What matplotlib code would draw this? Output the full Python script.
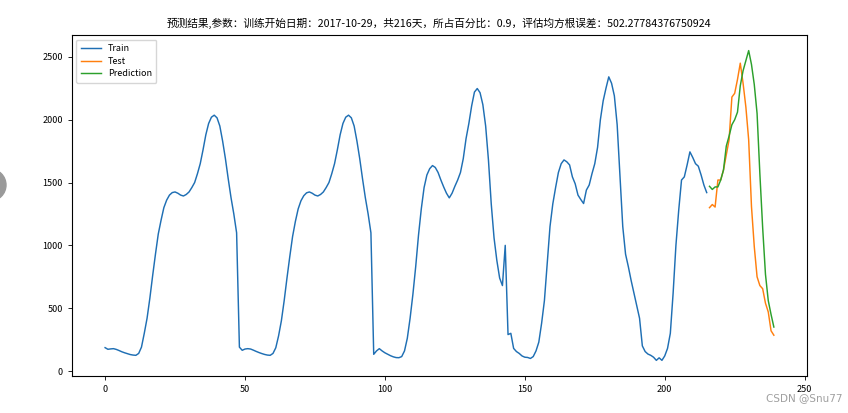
import matplotlib
matplotlib.use('Agg')
import matplotlib.pyplot as plt
from matplotlib.patches import Ellipse
import numpy as np

plt.rcParams['font.family'] = ['Noto Sans CJK SC', 'DejaVu Sans']
plt.rcParams['axes.unicode_minus'] = False

title = '预测结果,参数：训练开始日期：2017-10-29，共216天，所占百分比：0.9，评估均方根误差：502.27784376750924'

train = [
    186, 173, 176, 178, 172, 163, 153, 145, 138, 131, 127, 125, 140, 190, 300, 420,
    580, 760, 930, 1090, 1200, 1300, 1360, 1400, 1420, 1425, 1415, 1400, 1393, 1405, 1425, 1460,
    1500, 1570, 1650, 1760, 1880, 1970, 2020, 2036, 2015, 1950, 1830, 1690, 1530, 1380, 1250, 1100,
    190, 165, 175, 178, 175, 166, 156, 147, 139, 132, 127, 125, 140, 185, 280, 400,
    560, 740, 910, 1070, 1190, 1290, 1355, 1395, 1418, 1425, 1415, 1400, 1393, 1405, 1425, 1460,
    1500, 1570, 1650, 1760, 1880, 1970, 2020, 2036, 2015, 1950, 1830, 1690, 1530, 1380, 1250, 1100,
    133, 160, 178, 160, 145, 133, 122, 113, 107, 106, 115, 160, 260, 420, 610, 830,
    1080, 1290, 1460, 1560, 1610, 1635, 1620, 1580, 1520, 1465, 1415, 1378, 1415, 1470, 1520, 1580,
    1690, 1850, 1970, 2110, 2220, 2248, 2215, 2120, 1950, 1680, 1330, 1060, 880, 740, 680, 1000,
    290, 300, 180, 155, 140, 120, 110, 108, 100, 115, 160, 230, 380, 560, 850, 1150,
    1330, 1460, 1580, 1650, 1680, 1665, 1640, 1545, 1490, 1400, 1365, 1333, 1440, 1480, 1570, 1650,
    1780, 2000, 2150, 2250, 2341, 2290, 2190, 1960, 1550, 1150, 930, 830, 720, 620, 520, 420,
    200, 155, 135, 125, 110, 85, 105, 85, 120, 180, 300, 620, 1000, 1280, 1520, 1545,
    1640, 1744, 1700, 1650, 1630, 1560, 1480, 1420,
]

test = [
    1300, 1325, 1305, 1520, 1520, 1600, 1720, 1840, 2180, 2210, 2320, 2450,
    2290, 2100, 1840, 1310, 990, 750, 680, 655, 540, 470, 320, 285,
]

prediction = [
    1470, 1445, 1465, 1465, 1520, 1600, 1790, 1870, 1960, 2000, 2060, 2270,
    2390, 2470, 2550, 2440, 2280, 2050, 1570, 1140, 770, 560, 450, 350,
]

x_train = np.arange(len(train))
x_test = np.arange(len(train), len(train) + len(test))

fig = plt.figure(figsize=(8.48, 4.13), dpi=100)
ax = fig.add_axes([0.0845, 0.09, 0.8675, 0.825])

ax.plot(x_train, train, color='#1f6fb4', lw=1.05, label='Train')
ax.plot(x_test, test, color='#ff7f0e', lw=1.05, label='Test')
ax.plot(x_test, prediction, color='#2ca02c', lw=1.05, label='Prediction')

ax.set_title(title, fontsize=7.7, pad=6)
ax.tick_params(labelsize=6.5, length=3, width=0.6)
for s in ax.spines.values():
    s.set_linewidth(0.8)
ax.legend(loc='upper left', handlelength=2.2, borderpad=0.5, labelspacing=0.4,
          prop={'family': ['Noto Sans CJK SC'], 'size': 6.5})

# screenshot leftovers
fig.patches.append(Ellipse((-10 / 848, 1 - 185 / 413), 32 / 848, 32 / 413,
                           transform=fig.transFigure, color='#9a9a9a', zorder=0))
fig.text(0.993, 0.025, 'CSDN @Snu77', ha='right', va='bottom', fontsize=7.5,
         color='#a0a0a0', family=['DejaVu Sans'])

fig.savefig('out.png', dpi=100)
